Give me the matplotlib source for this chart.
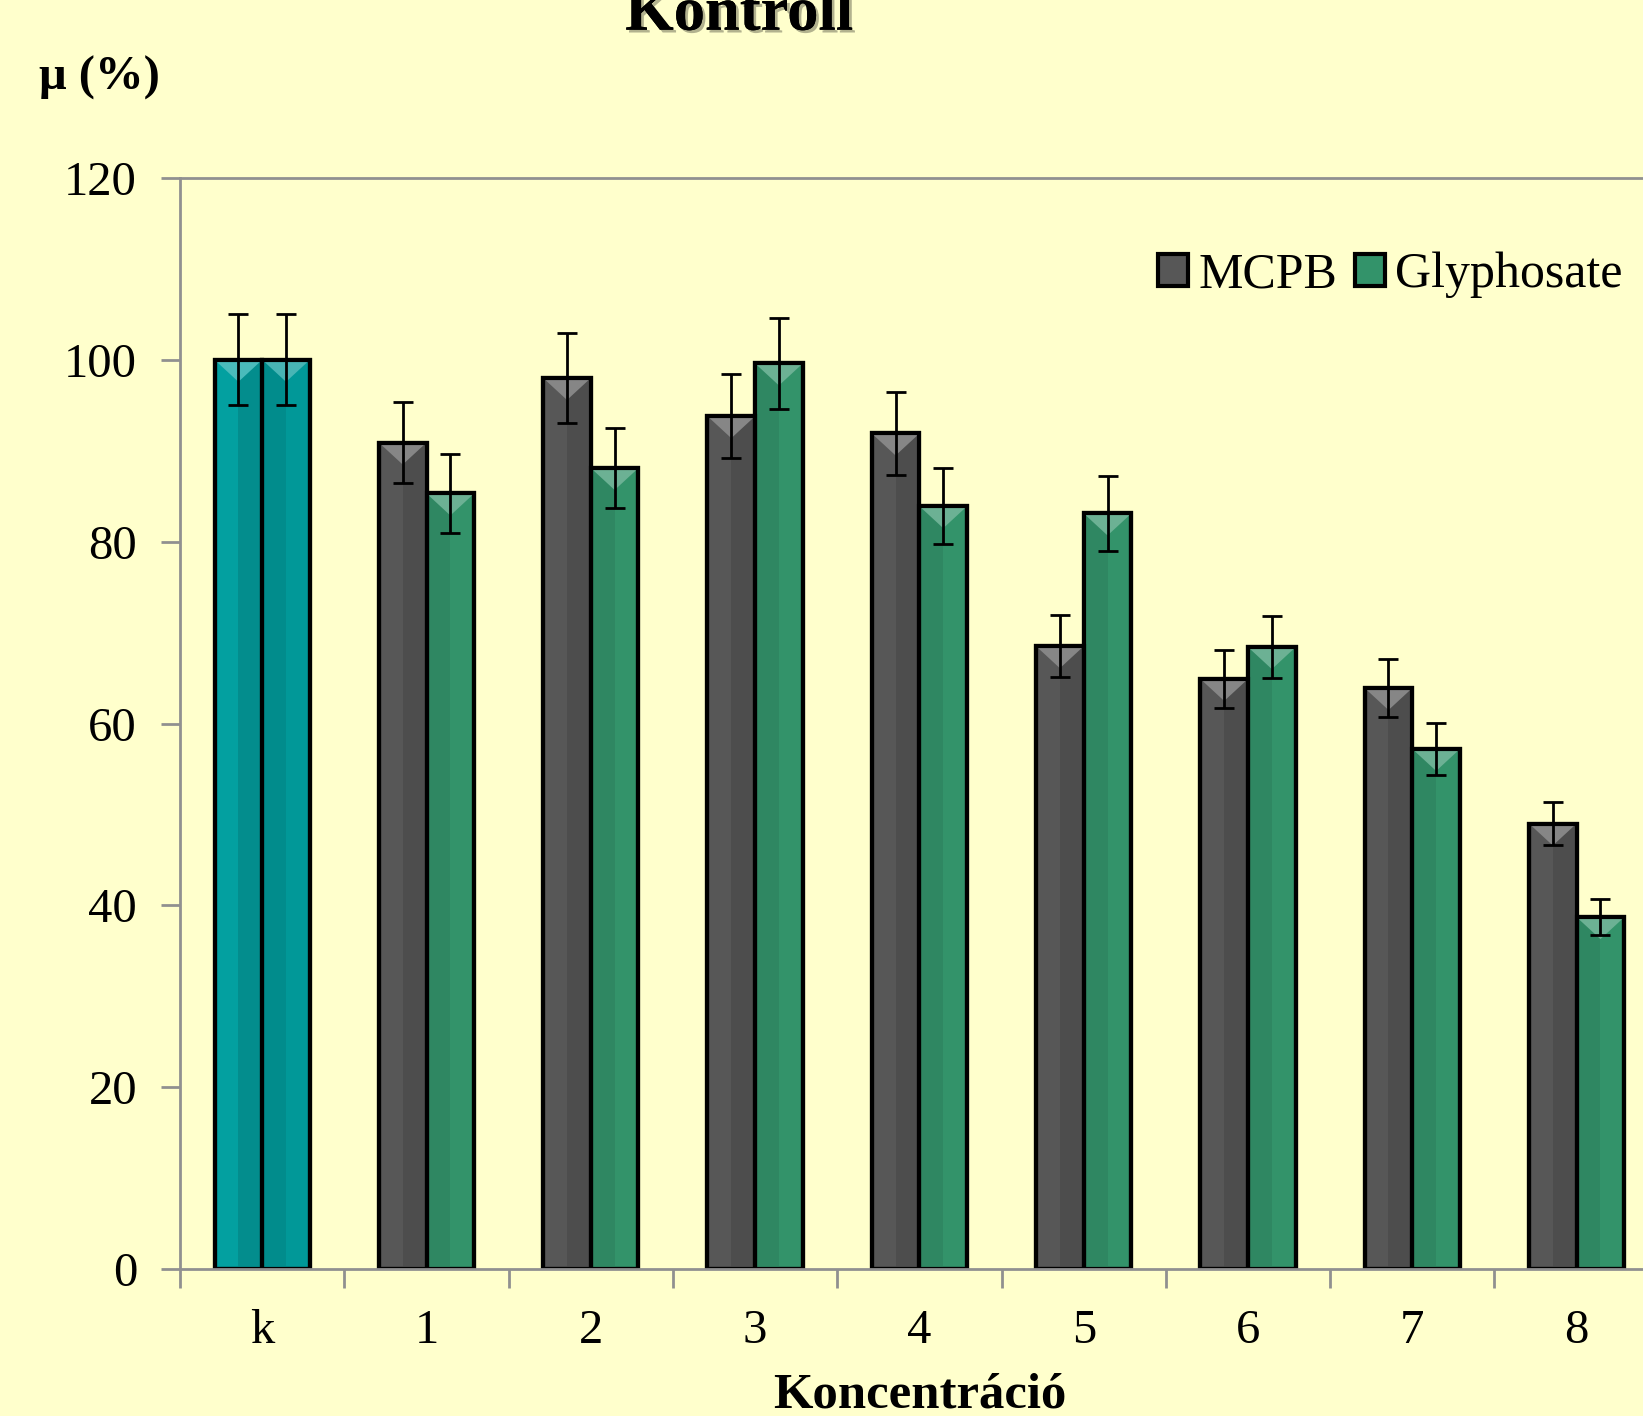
import numpy as np
import matplotlib
matplotlib.use("Agg")
import matplotlib.pyplot as plt
from matplotlib.patches import Polygon, Rectangle, Patch
import matplotlib.patheffects as pe

categories = ["k", "1", "2", "3", "4", "5", "6", "7", "8"]
mcpb = [100.0, 90.9, 98.0, 93.8, 91.9, 68.5, 64.9, 63.9, 49.0]
mcpb_err = [5.0, 4.5, 4.9, 4.6, 4.6, 3.4, 3.2, 3.2, 2.4]
glyph = [100.0, 85.3, 88.1, 99.6, 83.9, 83.1, 68.4, 57.2, 38.7]
glyph_err = [5.0, 4.3, 4.4, 5.0, 4.2, 4.1, 3.4, 2.9, 2.0]

BG = "#FFFFCC"
GREY = "#575757"
GREEN = "#33936A"
TEAL = "#03A0A0"

plt.rcParams['font.family'] = ['Liberation Serif', 'DejaVu Serif']

fig = plt.figure(figsize=(16.43, 14.16), dpi=100, facecolor=BG)
ax = fig.add_axes([0.1096, 0.1038, 0.900, 0.7705])
ax.set_facecolor(BG)

x = np.arange(len(categories))
w = 0.29

cols1 = [TEAL] + [GREY] * (len(categories) - 1)
cols2 = ["#019898"] + [GREEN] * (len(categories) - 1)
bars1 = ax.bar(x - w / 2, mcpb, w, color=cols1, edgecolor="black", linewidth=3, zorder=2)
bars2 = ax.bar(x + w / 2, glyph, w, color=cols2, edgecolor="black", linewidth=3, zorder=2)

ax.set_xlim(-0.5, len(categories) - 0.5)
ax.set_ylim(0, 120)

# bevel look: lighter half + top triangle
def light(c, f):
    rgb = np.array(matplotlib.colors.to_rgb(c))
    return tuple(rgb + (1 - rgb) * f)

def dark(c, f):
    rgb = np.array(matplotlib.colors.to_rgb(c))
    return tuple(rgb * (1 - f))

fig.canvas.draw()
px_per_unit = ax.transData.transform((0, 1))[1] - ax.transData.transform((0, 0))[1]
for bars, left_lighter in [(bars1, True), (bars2, False)]:
    for b in bars:
        x0, bw, h = b.get_x(), b.get_width(), b.get_height()
        c = b.get_facecolor()
        if left_lighter:
            ax.add_patch(Rectangle((x0 + bw / 2, 0), bw / 2, h, color=dark(c, 0.12), lw=0, zorder=2.1))
        else:
            ax.add_patch(Rectangle((x0, 0), bw / 2, h, color=dark(c, 0.08), lw=0, zorder=2.1))
        depth = 22 / px_per_unit
        tri = Polygon([(x0, h), (x0 + bw, h), (x0 + bw / 2, h - depth)], closed=True,
                      color=light(c, 0.28), lw=0, zorder=2.2)
        ax.add_patch(tri)
        ax.add_patch(Rectangle((x0, 0), bw, h, fill=False, edgecolor="black", lw=3, zorder=2.3))

ax.errorbar(x - w / 2, mcpb, yerr=mcpb_err, fmt="none", ecolor="black", elinewidth=2,
            capsize=7, capthick=2, zorder=3)
ax.errorbar(x + w / 2, glyph, yerr=glyph_err, fmt="none", ecolor="black", elinewidth=2,
            capsize=7, capthick=2, zorder=3)

ax.spines["right"].set_visible(False)
for s in ["left", "bottom", "top"]:
    ax.spines[s].set_color("#909090")
    ax.spines[s].set_linewidth(2)

ax.set_yticks(np.arange(0, 121, 20))
ax.set_xticks(np.arange(-0.5, len(categories), 1), minor=False)
ax.set_xticklabels([])
ax.set_xticks(x, minor=True)
ax.set_xticklabels(categories, minor=True)
ax.tick_params(axis="x", which="major", length=14, width=2, color="#909090")
ax.tick_params(axis="x", which="minor", length=0, pad=29, labelsize=35)
ax.tick_params(axis="y", length=14, width=2, color="#909090", pad=17, labelsize=35)

fig.text(0.45, 0.979, "Kontroll", ha="center", va="baseline", fontsize=45, fontweight="bold",
         path_effects=[pe.withSimplePatchShadow(offset=(2, -2), alpha=0.3), pe.Normal()])
fig.text(0.024, 0.937, "μ (%)", ha="left", va="baseline", fontsize=35, fontweight="bold")
fig.text(0.5596, 0.006, "Koncentráció", ha="center", va="baseline", fontsize=36.5, fontweight="bold")

handles = [Patch(facecolor=GREY, edgecolor="black", linewidth=3),
           Patch(facecolor=GREEN, edgecolor="black", linewidth=3)]
fig.legend(handles, ["MCPB", "Glyphosate"], loc="center right",
           bbox_to_anchor=(0.9995, 1 - 275 / 1416), ncol=2, frameon=False, fontsize=36,
           handlelength=0.6, handleheight=0.6, handletextpad=0.2, columnspacing=0.35,
           borderaxespad=0)

fig.savefig("out.png", dpi=100, facecolor=BG)
